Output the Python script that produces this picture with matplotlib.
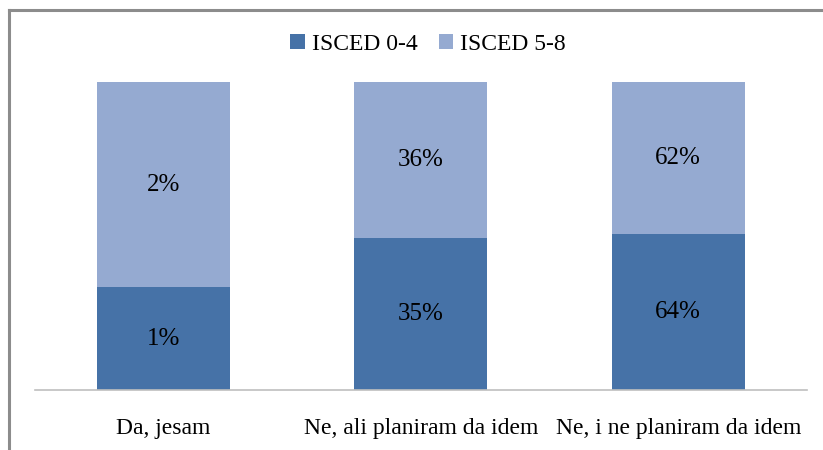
import matplotlib.pyplot as plt
import numpy as np
from matplotlib.lines import Line2D

# data
categories = ["Da, jesam", "Ne, ali planiram da idem", "Ne, i ne planiram da idem"]
isced_0_4 = [1, 35, 64]
isced_5_8 = [2, 36, 62]

DARK = "#4672a7"
LIGHT = "#95aad1"

plt.rcParams["font.family"] = ["Liberation Serif", "DejaVu Serif"]

fig = plt.figure(figsize=(8.23, 4.5), dpi=100)
ax = fig.add_axes([0.0425, 0.1333, 0.938, 0.6845])

a = np.array(isced_0_4, dtype=float)
b = np.array(isced_5_8, dtype=float)
tot = a + b
fa = a / tot
fb = b / tot
x = np.arange(len(categories))
w = 0.517

ax.bar(x, fa, w, color=DARK, label="ISCED 0-4")
ax.bar(x, fb, w, bottom=fa, color=LIGHT, label="ISCED 5-8")

for i in range(len(x)):
    ax.text(x[i], fa[i] / 2, f"{isced_0_4[i]}%", ha="center", va="center", fontsize=18)
    ax.text(x[i], fa[i] + fb[i] / 2, f"{isced_5_8[i]}%", ha="center", va="center", fontsize=18)

ax.set_xlim(-0.5, 2.5)
ax.set_ylim(0, 1)
ax.set_yticks([])
ax.set_xticks(x)
ax.set_xticklabels(categories, fontsize=17)
ax.tick_params(axis="x", length=0, pad=20)
for s in ["top", "right", "left"]:
    ax.spines[s].set_visible(False)
ax.spines["bottom"].set_color("#bfbfbf")
ax.spines["bottom"].set_linewidth(1.2)

fig.legend(loc="center", bbox_to_anchor=(0.52, 0.902), ncol=2, frameon=False,
           fontsize=17, handlelength=0.6, handleheight=0.6, handletextpad=0.3,
           columnspacing=0.9)

# outer border (left and top only visible)
fig.add_artist(Line2D([0.0105, 0.0105], [0, 0.977], color="#8c8c8c", lw=2.2, transform=fig.transFigure))
fig.add_artist(Line2D([0.0105, 1], [0.977, 0.977], color="#8c8c8c", lw=2.2, transform=fig.transFigure))

fig.savefig("out.png", dpi=100)
